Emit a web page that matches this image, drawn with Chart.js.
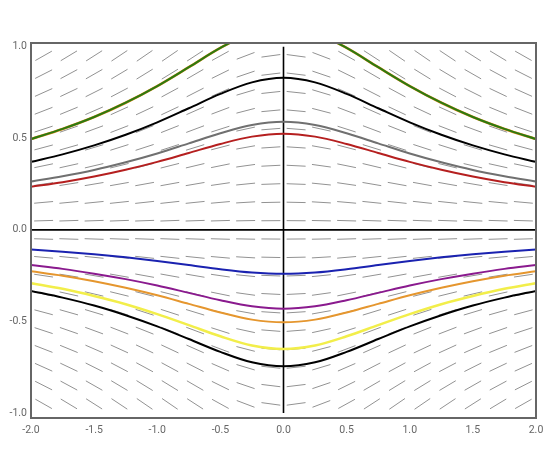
<!DOCTYPE html>
<html>
<head>
<meta charset="utf-8">
<script src="https://cdn.jsdelivr.net/npm/chart.js@4/dist/chart.umd.min.js"></script>
<style>
  html, body { margin: 0; padding: 0; background: #fff; }
  #wrap { width: 560px; height: 469px; }
</style>
</head>
<body>
<div id="wrap"><canvas id="chart" width="560" height="469"></canvas></div>
<script>
const xs = [-2, -1.75, -1.5, -1.25, -1, -0.75, -0.5, -0.25, 0, 0.25, 0.5, 0.75, 1, 1.25, 1.5, 1.75, 2];

// solution curves (y values read at xs)
const greenTop  = [0.496, 0.551, 0.616, 0.694, 0.785, 0.888, 0.993, 1.077, 1.11, 1.077, 0.993, 0.888, 0.785, 0.694, 0.616, 0.551, 0.496];
const blackTop  = [0.371, 0.412, 0.461, 0.519, 0.587, 0.664, 0.742, 0.805, 0.83, 0.805, 0.742, 0.664, 0.587, 0.519, 0.461, 0.412, 0.371];
const grayTop   = [0.264, 0.293, 0.327, 0.369, 0.417, 0.472, 0.527, 0.572, 0.59, 0.572, 0.527, 0.472, 0.417, 0.369, 0.327, 0.293, 0.264];
const redTop    = [0.235, 0.260, 0.291, 0.328, 0.371, 0.420, 0.469, 0.509, 0.525, 0.509, 0.469, 0.420, 0.371, 0.328, 0.291, 0.260, 0.235];
const blueLow   = [-0.107, -0.119, -0.133, -0.150, -0.170, -0.192, -0.215, -0.233, -0.24, -0.233, -0.215, -0.192, -0.170, -0.150, -0.133, -0.119, -0.107];
const purpleLow = [-0.192, -0.213, -0.239, -0.269, -0.304, -0.344, -0.384, -0.417, -0.43, -0.417, -0.384, -0.344, -0.304, -0.269, -0.239, -0.213, -0.192];
const orangeLow = [-0.226, -0.250, -0.280, -0.316, -0.357, -0.404, -0.451, -0.490, -0.505, -0.490, -0.451, -0.404, -0.357, -0.316, -0.280, -0.250, -0.226];
const yellowLow = [-0.291, -0.322, -0.361, -0.406, -0.460, -0.520, -0.581, -0.631, -0.65, -0.631, -0.581, -0.520, -0.460, -0.406, -0.361, -0.322, -0.291];
const blackLow  = [-0.333, -0.370, -0.413, -0.466, -0.527, -0.596, -0.666, -0.723, -0.745, -0.723, -0.666, -0.596, -0.527, -0.466, -0.413, -0.370, -0.333];

// slope field grid: column centres, per-column slope factor, row centres
const fieldCols   = [-1.9, -1.7, -1.5, -1.3, -1.1, -0.9, -0.7, -0.5, -0.3, -0.1, 0.1, 0.3, 0.5, 0.7, 0.9, 1.1, 1.3, 1.5, 1.7, 1.9];
const fieldFactor = [0.412, 0.437, 0.462, 0.483, 0.498, 0.497, 0.47, 0.4, 0.275, 0.099, -0.099, -0.275, -0.4, -0.47, -0.497, -0.498, -0.483, -0.462, -0.437, -0.412];
const fieldRows   = [-0.95, -0.85, -0.75, -0.65, -0.55, -0.45, -0.35, -0.25, -0.15, -0.05, 0.05, 0.15, 0.25, 0.35, 0.45, 0.55, 0.65, 0.75, 0.85, 0.95];

const xTicks = [-2, -1.5, -1, -0.5, 0, 0.5, 1, 1.5, 2];
const yTicks = [-1, -0.5, 0, 0.5, 1];

function pts(ys) {
    return xs.map((x, i) => ({ x: x, y: ys[i] }));
}

function curve(ys, color, width) {
    return {
        data: pts(ys),
        borderColor: color,
        borderWidth: width,
        pointRadius: 0,
        fill: false,
        cubicInterpolationMode: 'monotone'
    };
}

// slope dashes, axis lines and the frame
const fieldPlugin = {
    id: 'field',
    beforeDatasetsDraw(chart) {
        const ctx = chart.ctx;
        const xs_ = chart.scales.x;
        const ys_ = chart.scales.y;
        const half = 9.5;
        ctx.save();
        ctx.strokeStyle = '#929292';
        ctx.lineWidth = 1;
        fieldCols.forEach((cx, i) => {
            fieldRows.forEach(cy => {
                const m = cy * fieldFactor[i];
                const x0 = xs_.getPixelForValue(cx);
                const y0 = ys_.getPixelForValue(cy);
                const x1 = xs_.getPixelForValue(cx + 0.1);
                const y1 = ys_.getPixelForValue(cy + m * 0.1);
                let vx = x1 - x0, vy = y1 - y0;
                const len = Math.hypot(vx, vy);
                vx = vx / len * half;
                vy = vy / len * half;
                ctx.beginPath();
                ctx.moveTo(x0 - vx, y0 - vy);
                ctx.lineTo(x0 + vx, y0 + vy);
                ctx.stroke();
            });
        });
        // axes through the origin
        const a = chart.chartArea;
        ctx.strokeStyle = '#000';
        ctx.lineWidth = 1.6;
        ctx.beginPath();
        ctx.moveTo(a.left, ys_.getPixelForValue(0));
        ctx.lineTo(a.right, ys_.getPixelForValue(0));
        ctx.moveTo(xs_.getPixelForValue(0), ys_.getPixelForValue(1));
        ctx.lineTo(xs_.getPixelForValue(0), ys_.getPixelForValue(-1));
        ctx.stroke();
        ctx.restore();
    },
    afterDraw(chart) {
        const a = chart.chartArea;
        const ctx = chart.ctx;
        ctx.save();
        ctx.strokeStyle = '#666';
        ctx.lineWidth = 2;
        ctx.strokeRect(a.left, a.top, a.right - a.left, a.bottom - a.top);
        ctx.restore();
    }
};

new Chart(document.getElementById('chart'), {
    type: 'line',
    data: {
        datasets: [
            // lower index is painted on top
            curve(greenTop, '#2c7a10', 2),
            curve(greenTop, '#e08a1e', 2.6),
            curve(blackTop, '#000000', 2),
            curve(grayTop, '#707070', 2),
            curve(redTop, '#b51f1f', 2),
            curve(blueLow, '#1a22b0', 2),
            curve(purpleLow, '#8a1a8e', 2),
            curve(orangeLow, '#e5962e', 2),
            curve(yellowLow, '#f2ee4a', 2.5),
            curve(blackLow, '#000000', 2)
        ]
    },
    options: {
        responsive: false,
        animation: false,
        layout: { padding: { top: 43, right: 24, left: 0, bottom: 0 } },
        plugins: {
            legend: { display: false },
            tooltip: { enabled: false }
        },
        scales: {
            x: {
                type: 'linear',
                min: -2,
                max: 2,
                grid: { display: false, drawTicks: false },
                border: { display: false },
                afterBuildTicks: s => { s.ticks = xTicks.map(v => ({ value: v })); },
                afterFit: s => { s.height = 51; },
                ticks: {
                    padding: 6,
                    color: '#666',
                    font: { family: 'Roboto', size: 10.5 },
                    maxRotation: 0,
                    callback: v => v.toFixed(1)
                }
            },
            y: {
                type: 'linear',
                min: -1.027,
                max: 1.02,
                grid: { display: false, drawTicks: false },
                border: { display: false },
                afterBuildTicks: s => { s.ticks = yTicks.map(v => ({ value: v })); },
                afterFit: s => { s.width = 31; },
                ticks: {
                    padding: 4,
                    color: '#666',
                    font: { family: 'Roboto', size: 10.5 },
                    callback: v => v.toFixed(1)
                }
            }
        }
    },
    plugins: [fieldPlugin]
});
</script>
</body>
</html>
